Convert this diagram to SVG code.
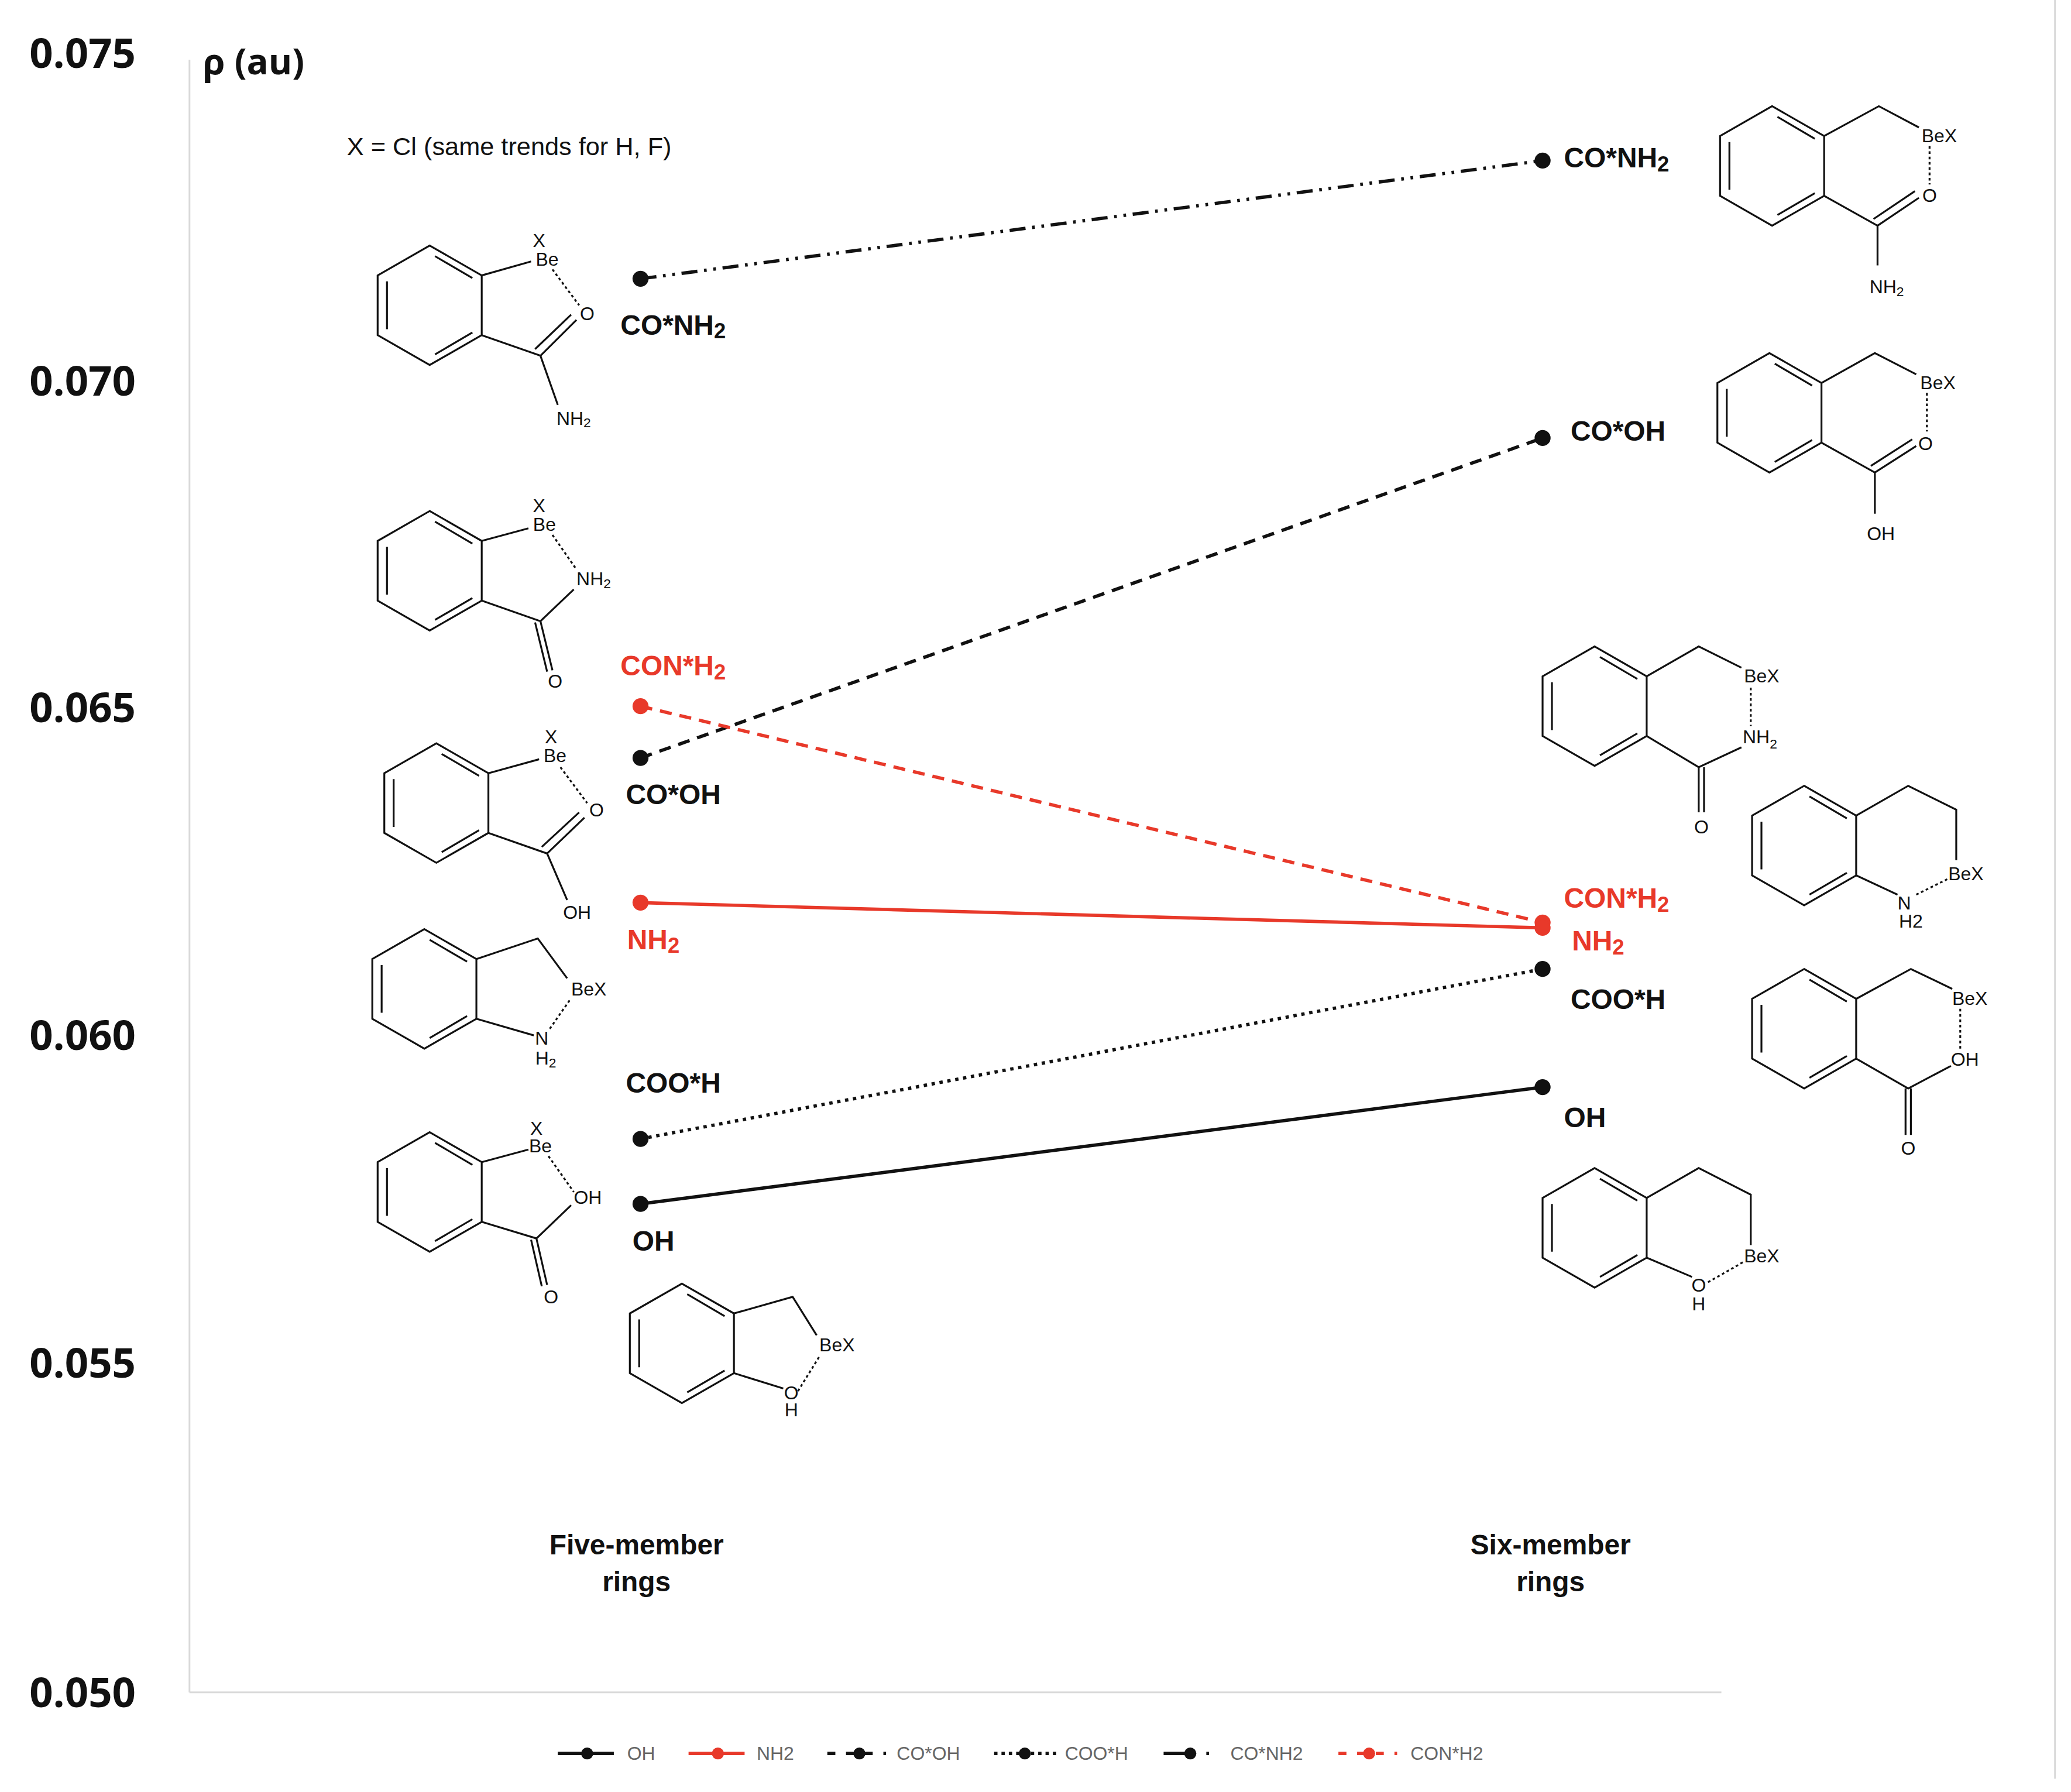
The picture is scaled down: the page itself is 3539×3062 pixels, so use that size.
<svg xmlns="http://www.w3.org/2000/svg" xmlns:xlink="http://www.w3.org/1999/xlink" width="3539" height="3062" viewBox="0 0 3539 3062">
<style>
.ax{font-family:"Open Sans","Liberation Sans",sans-serif;font-weight:bold;font-size:31px;fill:#111}
.lb{font-family:"Liberation Sans",Arial,sans-serif;font-weight:bold;font-size:21px;fill:#111}
.red{fill:#e8392a}
.ch{font-family:"Liberation Sans",Arial,sans-serif;font-size:14px;fill:#111}
.lg{font-family:"Liberation Sans",Arial,sans-serif;font-size:14px;fill:#666}
.b{stroke:#111;stroke-width:1.4;fill:none}
.d{stroke:#111;stroke-width:1.4;fill:none;stroke-dasharray:2,2}
.grid{stroke:#d9d9d9;stroke-width:1.3}
</style>
<defs>
<path id="benz" d="M0,-45 L39,-22.5 L39,22.5 L0,45 L-39,22.5 L-39,-22.5 Z M4,-37 L32,-20.5 M-32,-18 L-32,18 M4,37 L32,20.5" stroke="#111" stroke-width="1.4" fill="none"/>
</defs>
<rect width="3539" height="3062" fill="#fff"/>
<g transform="scale(2.2803,2.2681)">
<g id="axes">
<line class="grid" x1="142" y1="45" x2="142" y2="1275"/>
<line class="grid" x1="142" y1="1275" x2="1290" y2="1275"/>
<line class="grid" x1="1540" y1="0" x2="1540" y2="1340"/>
<text class="ax" x="22" y="51">0.075</text>
<text class="ax" x="22" y="298">0.070</text>
<text class="ax" x="22" y="544">0.065</text>
<text class="ax" x="22" y="791">0.060</text>
<text class="ax" x="22" y="1038">0.055</text>
<text class="ax" x="22" y="1286">0.050</text>
<text class="ax" x="152" y="56" style="font-size:27px">ρ (au)</text>
<text x="260" y="117" style="font-family:'Liberation Sans',Arial,sans-serif;font-size:19px;fill:#111">X = Cl (same trends for H, F)</text>
</g>
<g id="connectors" stroke-width="2.5" fill="none">
<line x1="480" y1="210" x2="1156" y2="121" stroke="#111" stroke-dasharray="12,5,2,5,2,5"/>
<line x1="480" y1="571" x2="1156" y2="330" stroke="#111" stroke-dasharray="9,6"/>
<line x1="480" y1="532" x2="1156" y2="695" stroke="#e8392a" stroke-dasharray="9,6"/>
<line x1="480" y1="680" x2="1156" y2="699" stroke="#e8392a"/>
<line x1="480" y1="858" x2="1156" y2="730" stroke="#111" stroke-dasharray="2.5,3.5"/>
<line x1="480" y1="907" x2="1156" y2="819" stroke="#111"/>
<g fill="#111" stroke="none">
<circle cx="480" cy="210" r="6"/><circle cx="1156" cy="121" r="6"/>
<circle cx="480" cy="571" r="6"/><circle cx="1156" cy="330" r="6"/>
<circle cx="480" cy="858" r="6"/><circle cx="1156" cy="730" r="6"/>
<circle cx="480" cy="907" r="6"/><circle cx="1156" cy="819" r="6"/>
</g>
<g fill="#e8392a" stroke="none">
<circle cx="480" cy="532" r="6"/><circle cx="1156" cy="695" r="6"/>
<circle cx="480" cy="680" r="6"/><circle cx="1156" cy="699" r="6"/>
</g>
</g>
<g id="labels">
<text class="lb" x="465" y="252">CO*NH<tspan font-size="16" dy="3">2</tspan></text>
<text class="lb red" x="465" y="509">CON*H<tspan font-size="16" dy="3">2</tspan></text>
<text class="lb" x="469" y="606">CO*OH</text>
<text class="lb red" x="470" y="715">NH<tspan font-size="16" dy="3">2</tspan></text>
<text class="lb" x="469" y="823">COO*H</text>
<text class="lb" x="474" y="942">OH</text>
<text class="lb" x="1172" y="126">CO*NH<tspan font-size="16" dy="3">2</tspan></text>
<text class="lb" x="1177" y="332">CO*OH</text>
<text class="lb red" x="1172" y="684">CON*H<tspan font-size="16" dy="3">2</tspan></text>
<text class="lb red" x="1178" y="716">NH<tspan font-size="16" dy="3">2</tspan></text>
<text class="lb" x="1177" y="760">COO*H</text>
<text class="lb" x="1172" y="849">OH</text>
<text class="lb" x="477" y="1171" text-anchor="middle">Five-member</text>
<text class="lb" x="477" y="1199" text-anchor="middle">rings</text>
<text class="lb" x="1162" y="1171" text-anchor="middle">Six-member</text>
<text class="lb" x="1162" y="1199" text-anchor="middle">rings</text>
</g>
<g id="mol1">
<use xlink:href="#benz" x="322" y="230"/>
<path class="b" d="M361,207.5 L398,197 M361,252.5 L405,268 L418,305 M405,268 L432,241 M401,263 L428,237"/>
<path class="d" d="M414,203 L434,230"/>
<text class="ch" x="404" y="186" text-anchor="middle">X</text>
<text class="ch" x="410" y="200" text-anchor="middle">Be</text>
<text class="ch" x="440" y="241" text-anchor="middle">O</text>
<text class="ch" x="417" y="320">NH<tspan font-size="10" dy="2">2</tspan></text>
</g>
<g id="mol2">
<use xlink:href="#benz" x="322" y="430"/>
<path class="b" d="M361,407.5 L396,398 M361,452.5 L405,468 L430,444 M405,468 L414,505 M401,469 L410,506"/>
<path class="d" d="M414,403 L432,429"/>
<text class="ch" x="404" y="386" text-anchor="middle">X</text>
<text class="ch" x="408" y="400" text-anchor="middle">Be</text>
<text class="ch" x="432" y="441">NH<tspan font-size="10" dy="2">2</tspan></text>
<text class="ch" x="416" y="518" text-anchor="middle">O</text>
</g>
<g id="mol3">
<use xlink:href="#benz" x="327" y="605"/>
<path class="b" d="M366,582.5 L404,572 M366,627.5 L410,643 L425,678 M410,643 L438,616 M406,638 L434,612"/>
<path class="d" d="M420,578 L440,605"/>
<text class="ch" x="413" y="560" text-anchor="middle">X</text>
<text class="ch" x="416" y="574" text-anchor="middle">Be</text>
<text class="ch" x="447" y="615" text-anchor="middle">O</text>
<text class="ch" x="422" y="692">OH</text>
</g>
<g id="mol4">
<use xlink:href="#benz" x="318" y="745"/>
<path class="b" d="M357,722.5 L403,707 L425,737 M357,767.5 L400,780"/>
<path class="d" d="M412,775 L428,752"/>
<text class="ch" x="428" y="750">BeX</text>
<text class="ch" x="406" y="787" text-anchor="middle">N</text>
<text class="ch" x="409" y="802" text-anchor="middle">H<tspan font-size="10" dy="2">2</tspan></text>
</g>
<g id="mol5">
<use xlink:href="#benz" x="322" y="898"/>
<path class="b" d="M361,875.5 L396,866 M361,920.5 L402,933 L428,908 M402,933 L410,968 M398,934 L406,969"/>
<path class="d" d="M411,871 L430,898"/>
<text class="ch" x="402" y="855" text-anchor="middle">X</text>
<text class="ch" x="405" y="868" text-anchor="middle">Be</text>
<text class="ch" x="430" y="907">OH</text>
<text class="ch" x="413" y="982" text-anchor="middle">O</text>
</g>
<g id="mol6">
<use xlink:href="#benz" x="511" y="1012"/>
<path class="b" d="M550,989.5 L594,977 L612,1006 M550,1034.5 L587,1046"/>
<path class="d" d="M598,1048 L614,1022"/>
<text class="ch" x="614" y="1018">BeX</text>
<text class="ch" x="593" y="1054" text-anchor="middle">O</text>
<text class="ch" x="593" y="1067" text-anchor="middle">H</text>
</g>
<g id="mol7">
<use xlink:href="#benz" x="1328" y="125"/>
<path class="b" d="M1367,102.5 L1408,80 L1438,96 M1367,147.5 L1407,170 L1407,200 M1407,170 L1438,149 M1404,165 L1435,144"/>
<path class="d" d="M1446,110 L1446,139"/>
<text class="ch" x="1440" y="107">BeX</text>
<text class="ch" x="1446" y="152" text-anchor="middle">O</text>
<text class="ch" x="1401" y="221">NH<tspan font-size="10" dy="2">2</tspan></text>
</g>
<g id="mol8">
<use xlink:href="#benz" x="1326" y="311"/>
<path class="b" d="M1365,288.5 L1405,266 L1436,282 M1365,333.5 L1405,356 L1405,387 M1405,356 L1436,336 M1402,351 L1433,331"/>
<path class="d" d="M1444,296 L1444,325"/>
<text class="ch" x="1439" y="293">BeX</text>
<text class="ch" x="1443" y="339" text-anchor="middle">O</text>
<text class="ch" x="1399" y="407">OH</text>
</g>
<g id="mol9">
<use xlink:href="#benz" x="1195" y="532"/>
<path class="b" d="M1234,509.5 L1273,487 L1305,503 M1234,554.5 L1273,578 L1305,563 M1273,578 L1273,612 M1277,578 L1277,612"/>
<path class="d" d="M1312,518 L1312,547"/>
<text class="ch" x="1307" y="514">BeX</text>
<text class="ch" x="1306" y="560">NH<tspan font-size="10" dy="4">2</tspan></text>
<text class="ch" x="1275" y="628" text-anchor="middle">O</text>
</g>
<g id="mol10">
<use xlink:href="#benz" x="1352" y="637"/>
<path class="b" d="M1391,614.5 L1430,592 L1466,610 L1466,648 M1391,659.5 L1422,674"/>
<path class="d" d="M1436,674 L1460,662"/>
<text class="ch" x="1460" y="663">BeX</text>
<text class="ch" x="1427" y="685" text-anchor="middle">N</text>
<text class="ch" x="1432" y="699" text-anchor="middle" font-size="13">H2</text>
</g>
<g id="mol11">
<use xlink:href="#benz" x="1352" y="775"/>
<path class="b" d="M1391,752.5 L1432,730 L1463,745 M1391,797.5 L1430,820 L1462,803 M1428,820 L1428,855 M1432,820 L1432,855"/>
<path class="d" d="M1469,760 L1469,790"/>
<text class="ch" x="1463" y="757">BeX</text>
<text class="ch" x="1462" y="803">OH</text>
<text class="ch" x="1430" y="870" text-anchor="middle">O</text>
</g>
<g id="mol12">
<use xlink:href="#benz" x="1195" y="925"/>
<path class="b" d="M1234,902.5 L1273,880 L1312,900 L1312,938 M1234,947.5 L1268,962"/>
<path class="d" d="M1280,966 L1306,951"/>
<text class="ch" x="1307" y="951">BeX</text>
<text class="ch" x="1273" y="973" text-anchor="middle">O</text>
<text class="ch" x="1273" y="987" text-anchor="middle">H</text>
</g>
<g id="legend" stroke-width="2.5">
<line x1="418" y1="1321" x2="460" y2="1321" stroke="#111"/><circle cx="440" cy="1321" r="4.5" fill="#111"/>
<text class="lg" x="470" y="1326">OH</text>
<line x1="516" y1="1321" x2="558" y2="1321" stroke="#e8392a"/><circle cx="538" cy="1321" r="4.5" fill="#e8392a"/>
<text class="lg" x="567" y="1326">NH2</text>
<line x1="620" y1="1321" x2="664" y2="1321" stroke="#111" stroke-dasharray="6,8"/><circle cx="644" cy="1321" r="4.5" fill="#111"/>
<text class="lg" x="672" y="1326">CO*OH</text>
<line x1="745" y1="1321" x2="792" y2="1321" stroke="#111" stroke-dasharray="2.5,3"/><circle cx="768" cy="1321" r="4.5" fill="#111"/>
<text class="lg" x="798" y="1326">COO*H</text>
<line x1="872" y1="1321" x2="892" y2="1321" stroke="#111"/><line x1="904" y1="1321" x2="906" y2="1321" stroke="#111"/><circle cx="892" cy="1321" r="4.5" fill="#111"/>
<text class="lg" x="922" y="1326">CO*NH2</text>
<line x1="1003" y1="1321" x2="1047" y2="1321" stroke="#e8392a" stroke-dasharray="6,8"/><circle cx="1026" cy="1321" r="4.5" fill="#e8392a"/>
<text class="lg" x="1057" y="1326">CON*H2</text>
</g>
</g>
</svg>
